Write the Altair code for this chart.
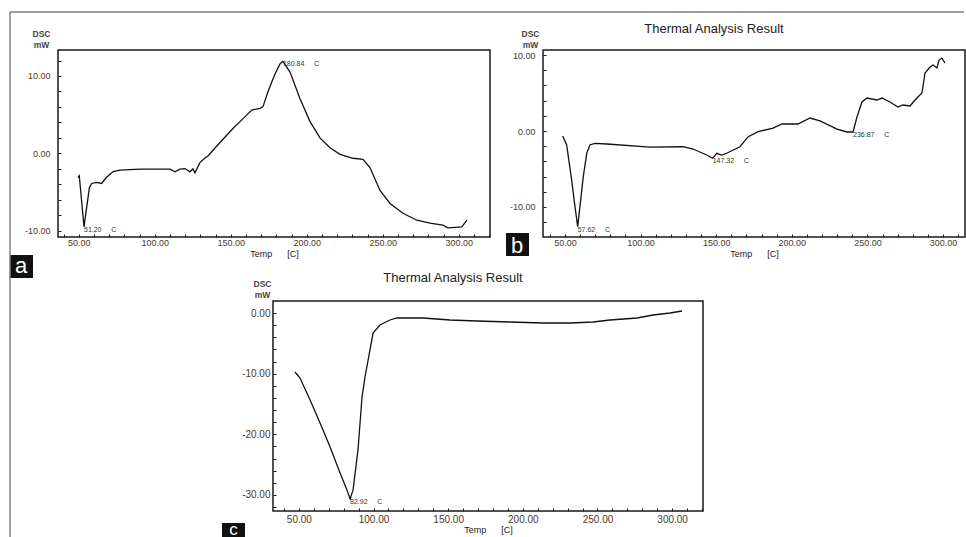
import altair as alt
import pandas as pd

FONT = "Liberation Sans"
NB = "\u00a0"
LABEL_COLOR = "#4a3a28"
INK = "#1a1a1a"

# ---------------- data ----------------
a_temp = [49.4, 50.3, 53.4, 55.5, 57.0, 58.5, 61.7, 65.0, 68.3, 72.6,
          77.1, 90.2, 110.0, 113.3, 116.5, 119.9, 123.1, 125.1, 126.4, 129.7,
          133.0, 135.0, 142.9, 151.4, 156.1, 160.7, 163.9, 169.2, 171.2, 174.5,
          177.1, 179.1, 182.4, 184.3, 189.0, 195.5, 202.1, 208.7, 215.3, 221.9,
          230.4, 237.0, 241.6, 248.2, 254.8, 263.3, 272.5, 281.1, 289.6, 292.9,
          302.1, 305.4]
a_dsc = [-3.15, -2.9, -9.5, -6.5, -4.4, -3.9, -3.75, -3.9, -3.1, -2.35,
         -2.17, -2.05, -2.05, -2.39, -2.05, -1.97, -2.39, -2.0, -2.52, -1.2,
         -0.6, -0.34, 1.4, 3.2, 4.1, 5.0, 5.6, 5.82, 6.04, 7.96,
         9.3, 10.26, 11.57, 11.9, 10.51, 7.10, 4.13, 1.99, 0.72, -0.13,
         -0.64, -0.77, -1.84, -4.81, -6.48, -7.75, -8.65, -9.03, -9.29, -9.63,
         -9.50, -8.65]
a_peak_temp = [53.4, 184.3]
a_peak_dsc = [-9.5, 11.9]
a_peak_label = ["51.20", "180.84"]

b_temp = [48.5, 51.1, 54.4, 56.6, 58.4, 62.1, 64.4, 66.5, 69.8, 77.8,
          106.2, 128.0, 134.7, 143.7, 147.7, 150.3, 153.6, 156.9, 165.7, 171.2,
          177.8, 187.6, 193.5, 204.1, 212.0, 218.7, 229.9, 236.5, 240.5, 243.1,
          246.4, 249.7, 256.3, 259.7, 264.9, 270.2, 273.5, 278.2, 281.5, 286.1,
          288.1, 291.4, 293.4, 296.0, 297.4, 299.3, 301.3]
b_dsc = [-0.66, -1.84, -6.45, -9.96, -12.59, -6.01, -2.93, -1.84, -1.62, -1.71,
         -2.11, -2.07, -2.37, -3.16, -3.59, -2.93, -3.16, -2.93, -2.07, -0.75,
         -0.09, 0.39, 0.92, 0.92, 1.71, 1.32, 0.26, -0.13, -0.13, 1.84,
         3.82, 4.34, 4.08, 4.34, 3.82, 3.16, 3.42, 3.29, 4.08, 5.0,
         7.63, 8.42, 8.68, 8.29, 9.34, 9.6, 8.95]
b_peak_temp = [58.4, 147.7, 240.5]
b_peak_dsc = [-12.59, -3.59, -0.13]
b_peak_label = ["57.62", "147.32", "236.87"]

c_temp = [47.4, 50.8, 57.5, 64.2, 70.9, 77.6, 82.2, 84.3, 86.3, 89.6,
          92.3, 94.3, 97.6, 99.7, 104.3, 111.0, 115.7, 133.1, 151.2, 169.3,
          191.4, 213.5, 231.6, 247.0, 258.4, 276.5, 287.2, 298.6, 306.6]
c_dsc = [-9.72, -10.71, -14.34, -18.13, -22.09, -26.37, -29.17, -30.66, -29.17, -22.58,
         -13.85, -10.55, -6.10, -3.30, -1.98, -1.15, -0.82, -0.82, -1.15, -1.32,
         -1.48, -1.65, -1.65, -1.48, -1.15, -0.82, -0.33, 0.0, 0.33]
c_peak_temp = [84.3]
c_peak_dsc = [-30.66]
c_peak_label = ["82.92"]

panel_letters = ["a", "b", "c"]
chart_title = "Thermal Analysis Result"
x_title = "Temp" + NB * 6 + "[C]"
y_title = ["DSC", "mW"]

ONE = pd.DataFrame({"d": [0]})


def x_axis(dom, size, pad, title_y):
    vals = [v for v in range(40, 330, 10) if dom[0] <= v <= dom[1]]
    return alt.Axis(values=vals,
                    labelExpr="datum.value % 50 == 0 ? format(datum.value, '.2f') : ''",
                    tickSize=3, offset=-3, domain=False, grid=False, tickColor=INK,
                    labelOverlap=False, labelFlush=False, labelPadding=pad,
                    labelFont=FONT, labelFontSize=size, labelColor=LABEL_COLOR,
                    title=x_title, titleFont=FONT, titleFontSize=9, titleFontWeight="normal",
                    titleColor="#222", titleY=title_y, titleBaseline="middle")


def y_axis(dom, size, pad, tx, ty):
    lo = int(dom[0] // 2 * 2)
    vals = [v for v in range(lo, int(dom[1]) + 2, 2) if dom[0] <= v <= dom[1]]
    return alt.Axis(values=vals,
                    labelExpr="datum.value % 10 == 0 ? (datum.value < 0 ? '-' : '') + format(abs(datum.value), '.2f') : ''",
                    tickSize=3, offset=-3, domain=False, grid=False, tickColor=INK,
                    labelOverlap=False, labelFlush=False, labelPadding=pad,
                    labelFont=FONT, labelFontSize=size, labelColor=LABEL_COLOR,
                    title=y_title, titleFont=FONT, titleFontSize=8.5, titleFontWeight="bold",
                    titleColor="#444", titleAngle=0, titleAlign="center", titleBaseline="top",
                    titleX=tx, titleY=ty, titleLineHeight=11.5)


def panel(temp, dsc, pk_t, pk_v, pk_lab, xdom, ydom, w, h, lab_size, ypad, xpad,
          xtitle_y, ytx, yty, letter, box, title_pos=None, frame=False):
    df = pd.DataFrame({"T": temp, "DSC": dsc})
    pk = pd.DataFrame({"T": pk_t, "DSC": pk_v,
                       "lab": [s + NB * 5 + "C" for s in pk_lab]})
    xs = alt.Scale(domain=xdom, nice=False, zero=False)
    ys = alt.Scale(domain=ydom, nice=False, zero=False)
    xa = x_axis(xdom, lab_size, xpad, xtitle_y)
    ya = y_axis(ydom, lab_size, ypad, ytx, yty)
    line = alt.Chart(df).mark_line(color="#111", strokeWidth=1.3).encode(
        x=alt.X("T:Q", scale=xs, axis=xa),
        y=alt.Y("DSC:Q", scale=ys, axis=ya),
    )
    labels = alt.Chart(pk).mark_text(font=FONT, fontSize=7, color="#333", align="left",
                                     baseline="middle", dy=3).encode(
        x=alt.X("T:Q", scale=xs, axis=xa), y=alt.Y("DSC:Q", scale=ys, axis=ya), text="lab:N")
    bx0, bx1, by0, by1, lx, ly, fs = box
    rect = alt.Chart(ONE).mark_rect(color="#111").encode(
        x=alt.value(bx0), x2=alt.value(bx1), y=alt.value(by0), y2=alt.value(by1))
    let = alt.Chart(ONE).mark_text(font=FONT, fontSize=fs, color="white", align="center",
                                   baseline="alphabetic").encode(
        x=alt.value(lx), y=alt.value(ly), text=alt.value(letter))
    layers = [line, labels, rect, let]
    if title_pos is not None:
        layers.append(alt.Chart(ONE).mark_text(font=FONT, fontSize=13, color="#222",
                                               align="center", baseline="alphabetic").encode(
            x=alt.value(title_pos[0]), y=alt.value(title_pos[1]), text=alt.value(chart_title)))
    if frame:
        layers.append(alt.Chart(ONE).mark_rule(color="#808080", strokeWidth=1.5).encode(
            x=alt.value(-48), x2=alt.value(906), y=alt.value(-38)))
        layers.append(alt.Chart(ONE).mark_rule(color="#808080", strokeWidth=1.5).encode(
            x=alt.value(-48), y=alt.value(-38), y2=alt.value(487)))
    return alt.layer(*layers).properties(width=w, height=h)


pa = panel(a_temp, a_dsc, a_peak_temp, a_peak_dsc, a_peak_label,
           [36.3, 320.6], [-10.82, 13.36], 432, 187, 9, 8, 1, 19, -20, -21,
           panel_letters[0], (-48, -25, 205, 228, -37, 222.5, 22), frame=True)
pb = panel(b_temp, b_dsc, b_peak_temp, b_peak_dsc, b_peak_label,
           [35.45, 314.55], [-13.95, 10.66], 422, 187, 9, 8, 1, 19, -16, -21,
           panel_letters[1], (-37, -14, 183, 206, -26, 203, 22), title_pos=(171, -17))
pc = panel(c_temp, c_dsc, c_peak_temp, c_peak_dsc, c_peak_label,
           [32.68, 320.67], [-32.64, 1.98], 430, 210, 10, 3, 3, 21, -14, -22,
           panel_letters[2], (-51, -28, 222, 236, -39.5, 233.5, 17), title_pos=(180, -19))

spacer = alt.Chart(ONE).mark_point(opacity=0).encode(
    x=alt.X("d:Q", axis=None), y=alt.Y("d:Q", axis=None)
).properties(width=195, height=210, view=alt.ViewBackground(stroke="transparent"))

row1 = alt.hconcat(pa, pb, spacing=53, bounds="flush")
row2 = alt.hconcat(spacer, pc, spacing=20, bounds="flush")
# with flush bounds a nested row counts as zero height, so the row gap includes row1's 187 px
chart = alt.vconcat(row1, row2, spacing=251, bounds="flush").properties(
    padding={"left": 8, "top": 10, "right": 0, "bottom": 0},
    background="white",
).configure(font=FONT, view=alt.ViewConfig(stroke=INK, strokeWidth=1.5))

chart.save("out.html", embed_options={"renderer": "svg", "actions": False})
